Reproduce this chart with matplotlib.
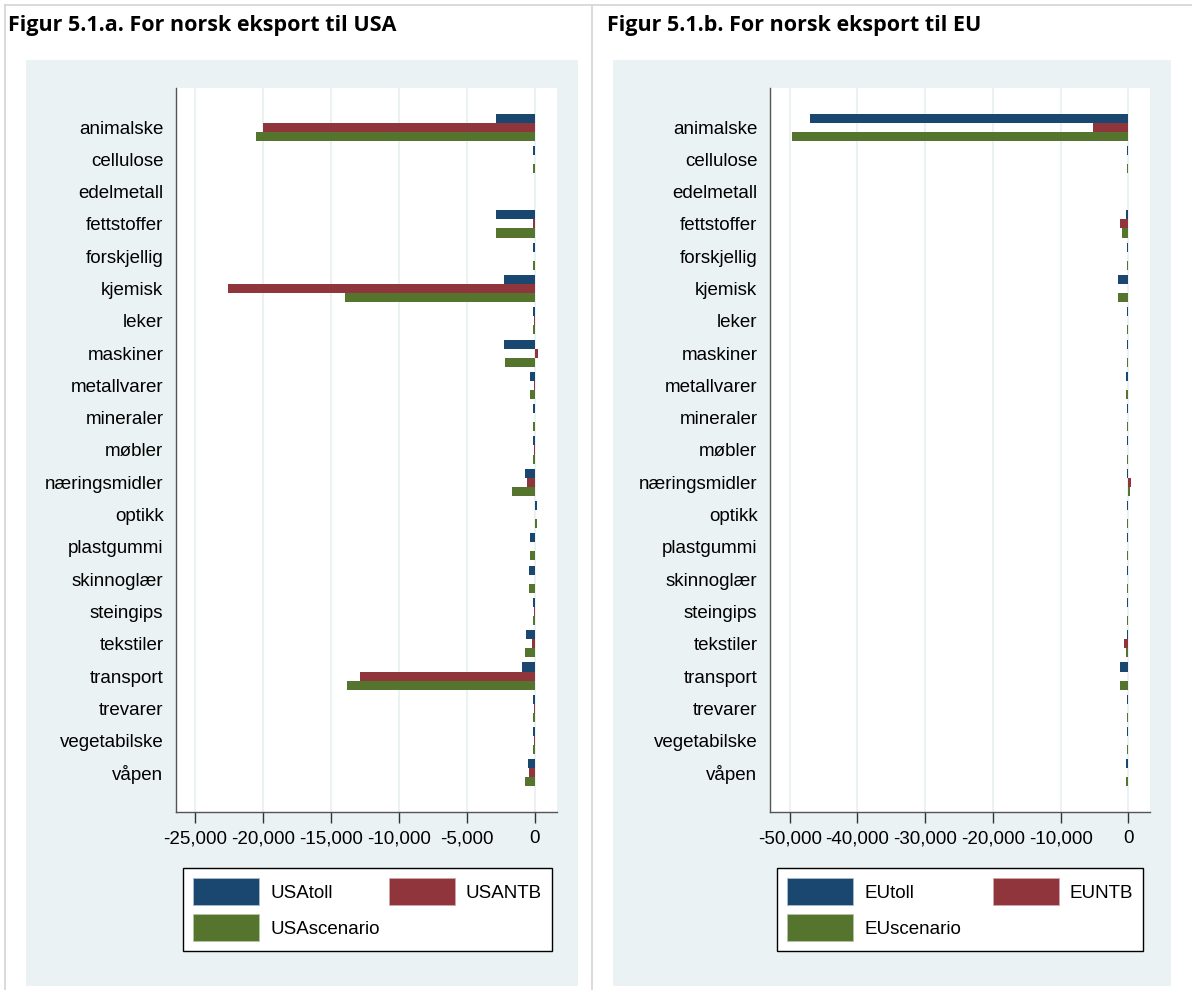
import numpy as np
import matplotlib
matplotlib.use('Agg')
import matplotlib.pyplot as plt
from matplotlib import font_manager
from matplotlib.patches import Rectangle, Patch
from matplotlib.lines import Line2D
from matplotlib.ticker import FuncFormatter

# data
categories = ['animalske', 'cellulose', 'edelmetall', 'fettstoffer', 'forskjellig', 'kjemisk',
              'leker', 'maskiner', 'metallvarer', 'mineraler', 'møbler', 'næringsmidler',
              'optikk', 'plastgummi', 'skinnoglær', 'steingips', 'tekstiler', 'transport',
              'trevarer', 'vegetabilske', 'våpen']

usa_toll = [-2820, -110, 0, -2820, -110, -2240, -100, -2280, -370, -110, -100, -740,
            170, -350, -400, -100, -620, -940, -100, -100, -520]
usa_ntb = [-19980, 0, 0, -150, 0, -22600, -60, 260, -60, 0, -60, -590,
           40, 0, 0, -60, -180, -12900, -60, -60, -420]
usa_scen = [-20550, -110, 0, -2870, -110, -14000, -100, -2160, -370, -110, -100, -1670,
            170, -340, -400, -100, -720, -13800, -100, -100, -690]

eu_toll = [-47000, -220, 0, -340, -220, -1480, -220, -230, -340, -220, -220, -220,
           -220, -220, -220, -220, -230, -1270, -220, -200, -390]
eu_ntb = [-5170, 0, 0, -1230, 0, 0, 0, 0, 0, 0, 0, 350,
          0, 0, 0, 0, -590, 0, 0, -100, 0]
eu_scen = [-49650, -220, 0, -880, -220, -1480, -220, -230, -340, -220, -220, 180,
           -220, -220, -220, -220, -390, -1270, -220, -250, -390]

usa_ticks = [-25000, -20000, -15000, -10000, -5000, 0]
eu_ticks = [-50000, -40000, -30000, -20000, -10000, 0]

navy = '#1a476f'
maroon = '#90353b'
green = '#55752f'
bg = '#eaf2f3'

names = {f.name for f in font_manager.fontManager.ttflist}
if 'Liberation Sans Narrow' in names:
    fam, fs = 'Liberation Sans Narrow', 16.5
else:
    fam, fs = 'Liberation Sans', 13.5
fs_px = fs * 100 / 72

W, H = 1192, 990
fig = plt.figure(figsize=(W / 100, H / 100), dpi=100, facecolor='white')

def fx(x):
    return x / W

def fy(y):
    return 1 - y / H

# cell borders
for (x0, y0, x1, y1) in [(5, 5, W, 5), (5, 5, 5, H), (592, 5, 592, H)]:
    fig.add_artist(Line2D([fx(x0), fx(x1)], [fy(y0), fy(y1)], color='#d4d4d4', lw=1.2))

panels = [
    dict(title='Figur 5.1.a. For norsk eksport til USA', tx=8, bgx=(26, 578), ax=(176, 557),
         data=(usa_toll, usa_ntb, usa_scen), labels=('USAtoll', 'USANTB', 'USAscenario'),
         ticks=usa_ticks, xlim=(-26420, 1640), leg=(183, 552)),
    dict(title='Figur 5.1.b. For norsk eksport til EU', tx=607, bgx=(613, 1171), ax=(770, 1150),
         data=(eu_toll, eu_ntb, eu_scen), labels=('EUtoll', 'EUNTB', 'EUscenario'),
         ticks=eu_ticks, xlim=(-52900, 3200), leg=(777, 1143)),
]

y = np.arange(len(categories))
h = 0.28

# legend swatch 66x27 px; matplotlib patch height = fs*(0.65*hh + 0.245)
hh = (27 / fs_px - 0.245) / 0.65

for p in panels:
    fig.text(fx(p['tx']), fy(26), p['title'], fontsize=15.5, fontweight='bold',
             family=['Open Sans', 'DejaVu Sans'], va='center', ha='left')
    bx0, bx1 = p['bgx']
    fig.add_artist(Rectangle((fx(bx0), fy(986)), fx(bx1 - bx0), (986 - 60) / H,
                             facecolor=bg, edgecolor='none', zorder=0))

    a0, a1 = p['ax']
    ax = fig.add_axes([fx(a0), fy(812), fx(a1 - a0), (812 - 88) / H])
    ax.set_facecolor('white')
    toll, ntb, scen = p['data']
    ax.barh(y - h, toll, height=h, color=navy, lw=0, zorder=3)
    ax.barh(y, ntb, height=h, color=maroon, lw=0, zorder=3)
    ax.barh(y + h, scen, height=h, color=green, lw=0, zorder=3)

    ax.set_ylim(len(categories) - 1 + 1.21, -1.21)
    ax.set_xlim(*p['xlim'])
    ax.set_yticks(y)
    ax.set_yticklabels(categories, family=fam, fontsize=fs)
    ax.set_xticks(p['ticks'])
    ax.xaxis.set_major_formatter(FuncFormatter(lambda v, pos: '{:,.0f}'.format(v)))
    for lab in ax.get_xticklabels():
        lab.set_family(fam)
        lab.set_fontsize(fs)
    ax.tick_params(axis='y', length=0, pad=9)
    ax.tick_params(axis='x', length=8, width=1, color='#333333', pad=5)
    ax.grid(axis='x', color=bg, lw=1.5, zorder=1)
    ax.set_axisbelow(True)
    for s in ['top', 'right']:
        ax.spines[s].set_visible(False)
    for s in ['left', 'bottom']:
        ax.spines[s].set_color('#555555')
        ax.spines[s].set_linewidth(1)

    handles = [Patch(facecolor=navy, edgecolor='#a9bccb', lw=0.6, label=p['labels'][0]),
               Patch(facecolor=green, edgecolor='#b3c4a0', lw=0.6, label=p['labels'][2]),
               Patch(facecolor=maroon, edgecolor='#cfa8ab', lw=0.6, label=p['labels'][1])]
    l0, l1 = p['leg']
    leg = ax.legend(handles=handles, ncol=2, loc='upper left', mode='expand',
                    bbox_to_anchor=(fx(l0), fy(950), fx(l1 - l0), (950 - 868) / H),
                    bbox_transform=fig.transFigure, borderaxespad=0,
                    prop={'family': fam, 'size': fs}, frameon=True, fancybox=False,
                    edgecolor='black', framealpha=1,
                    handlelength=66 / fs_px, handleheight=hh,
                    handletextpad=11 / fs_px, labelspacing=9 / fs_px,
                    borderpad=10 / fs_px, columnspacing=1.0)
    leg.get_frame().set_linewidth(1)

fig.savefig('out.png', dpi=100, facecolor='white')
